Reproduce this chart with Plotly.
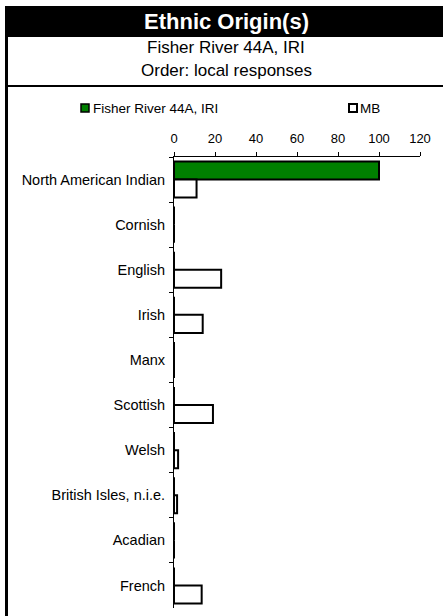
import plotly.graph_objects as go

# ---- data ----
categories = ["North American Indian", "Cornish", "English", "Irish", "Manx",
              "Scottish", "Welsh", "British Isles, n.i.e.", "Acadian", "French"]
series_names = ["Fisher River 44A, IRI", "MB"]
local_values = [100, 0, 0, 0, 0, 0, 0, 0, 0, 0]
mb_values = [11, 0, 23, 14, 0, 19, 2, 1.5, 0, 13.5]
x_ticks = [0, 20, 40, 60, 80, 100, 120]
title_text = "Ethnic Origin(s)"
subtitle_1 = "Fisher River 44A, IRI"
subtitle_2 = "Order: local responses"

# ---- layout geometry (pixels) ----
W, H = 443, 616
L, R, T, B = 174, 23, 157, 8
PW, PH = W - L - R, H - T - B
FONT = "Liberation Sans, Arial, sans-serif"


def px(x):
    return (x - L) / PW


def py(y):
    return (H - B - y) / PH


fig = go.Figure()
fig.add_trace(go.Bar(
    y=categories, x=local_values, orientation="h", name=series_names[0],
    marker=dict(color="#008000", line=dict(color="black", width=2)),
    showlegend=False,
))
fig.add_trace(go.Bar(
    y=categories, x=mb_values, orientation="h", name=series_names[1],
    marker=dict(color="white", line=dict(color="black", width=2)),
    showlegend=False,
))

shapes = [
    # title band
    dict(type="rect", xref="paper", yref="paper", x0=px(5), x1=px(W), y0=py(37), y1=py(6),
         fillcolor="black", line=dict(width=0), layer="above"),
    # left border
    dict(type="line", xref="paper", yref="paper", x0=px(6.5), x1=px(6.5), y0=py(6), y1=py(H),
         line=dict(color="black", width=3)),
    # separator under subtitles
    dict(type="line", xref="paper", yref="paper", x0=px(5), x1=px(W), y0=py(86), y1=py(86),
         line=dict(color="black", width=2)),
    # legend swatches
    dict(type="rect", xref="paper", yref="paper", x0=px(81), x1=px(89), y0=py(112), y1=py(104),
         fillcolor="#008000", line=dict(color="black", width=1.5)),
    dict(type="rect", xref="paper", yref="paper", x0=px(349), x1=px(357), y0=py(112), y1=py(104),
         fillcolor="white", line=dict(color="black", width=2)),
]

annotations = [
    dict(text="<b>" + title_text + "</b>", x=px(226), y=py(21.5), xref="paper", yref="paper",
         showarrow=False, xanchor="center", yanchor="middle",
         font=dict(family=FONT, size=22, color="white")),
    dict(text=subtitle_1, x=px(226), y=py(47), xref="paper", yref="paper",
         showarrow=False, xanchor="center", yanchor="middle",
         font=dict(family=FONT, size=17, color="black")),
    dict(text=subtitle_2, x=px(226), y=py(70), xref="paper", yref="paper",
         showarrow=False, xanchor="center", yanchor="middle",
         font=dict(family=FONT, size=17, color="black")),
    dict(text=series_names[0], x=px(91), y=py(108), xref="paper", yref="paper",
         showarrow=False, xanchor="left", yanchor="middle",
         font=dict(family=FONT, size=13.5, color="black")),
    dict(text=series_names[1], x=px(358), y=py(108), xref="paper", yref="paper",
         showarrow=False, xanchor="left", yanchor="middle",
         font=dict(family=FONT, size=13.5, color="black")),
]

fig.update_layout(
    width=W, height=H,
    margin=dict(l=L, r=R, t=T, b=B, pad=0),
    paper_bgcolor="white", plot_bgcolor="white",
    barmode="group", bargap=0.2, bargroupgap=0,
    showlegend=False,
    shapes=shapes, annotations=annotations,
    font=dict(family=FONT, color="black"),
    xaxis=dict(
        side="top", range=[0, 120], tickvals=x_ticks, ticktext=[str(v) for v in x_ticks],
        ticks="outside", ticklen=4, tickcolor="black", showline=True, linecolor="black",
        linewidth=1, showgrid=False, zeroline=False, fixedrange=True, ticklabelstandoff=4,
        tickfont=dict(family=FONT, size=13, color="black"),
    ),
    yaxis=dict(
        type="category", autorange="reversed", ticks="outside", tickson="boundaries",
        ticklen=4, tickcolor="black", showline=True, linecolor="black", linewidth=1,
        showgrid=False, zeroline=False, fixedrange=True, ticklabelstandoff=5,
        tickfont=dict(family=FONT, size=14.5, color="black"),
    ),
)

fig.write_html(
    "out.html",
    config={"displayModeBar": False},
    post_script="document.body.style.margin='0';document.body.style.overflow='hidden';",
)
